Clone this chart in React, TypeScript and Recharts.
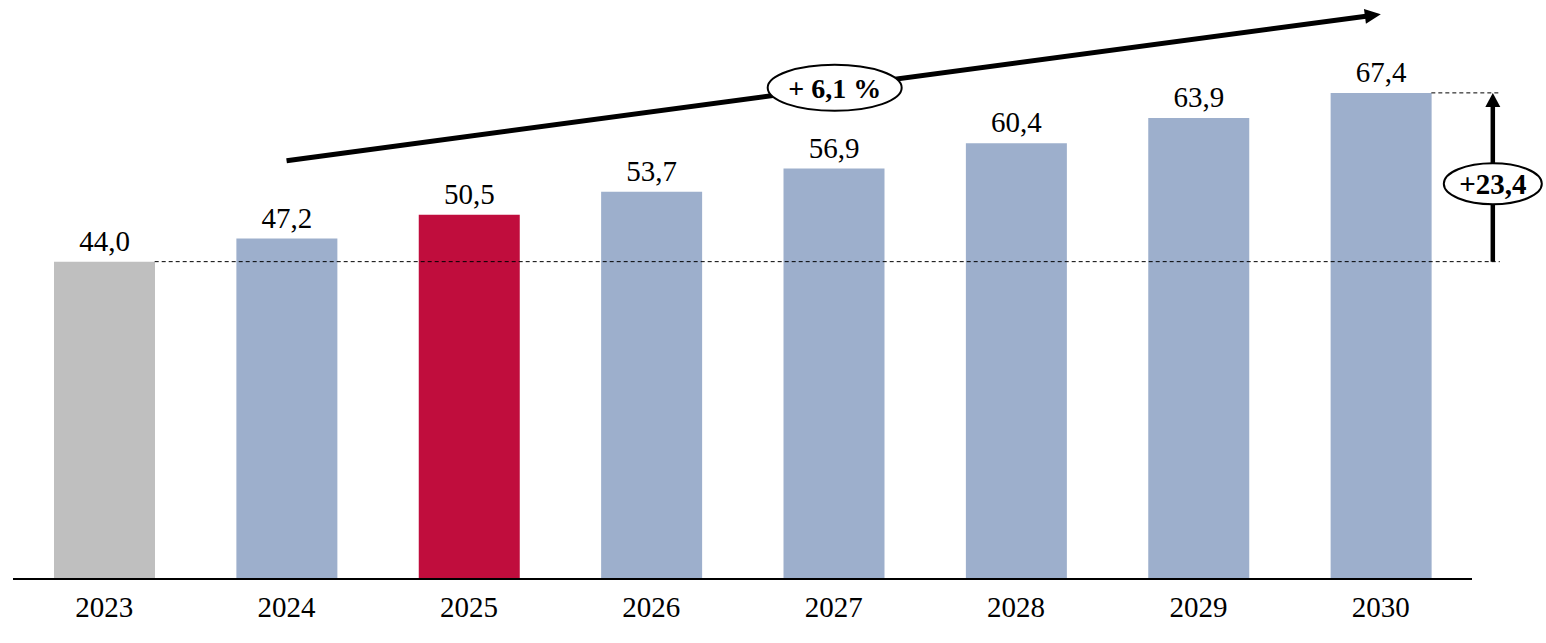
import React from 'react';
import { BarChart, Bar, XAxis, YAxis, Cell, LabelList, ReferenceLine, ReferenceDot } from 'recharts';

const years = ['2023', '2024', '2025', '2026', '2027', '2028', '2029', '2030'];
const values = [44.0, 47.2, 50.5, 53.7, 56.9, 60.4, 63.9, 67.4];
const barColors = ['#bfbfbf', '#9dafcc', '#c00d3d', '#9dafcc', '#9dafcc', '#9dafcc', '#9dafcc', '#9dafcc'];
const trendStart = 58.0;
const trendEnd = 78.3;
const trendLabel = '+ 6,1 %';
const trendLabelYear = '2027';
const trendLabelValue = 68.1;
const diffLabel = '+23,4';
const diffLabelValue = 54.8;

const data = years.map((y, i) => ({ year: y, value: values[i] }));
const FONT = '"Liberation Serif", "Times New Roman", serif';
const fmt = (v: any) => Number(v).toFixed(1).replace('.', ',');

const BAR_HALF = 50.5;
const SIDE_X = 112;

const DashedBase = (p: any) => (
  <line x1={p.x1 + BAR_HALF} y1={p.y1} x2={p.x2 + 119} y2={p.y2} stroke="#000" strokeWidth={1} strokeDasharray="4 3" />
);
const DashedTop = (p: any) => (
  <line x1={p.x1 + BAR_HALF} y1={p.y1} x2={p.x2 + 119} y2={p.y2} stroke="#000" strokeWidth={1} strokeDasharray="4 3" />
);
const TrendArrow = (p: any) => {
  const { x1, y1, x2, y2 } = p;
  const dx = x2 - x1, dy = y2 - y1;
  const len = Math.sqrt(dx * dx + dy * dy);
  const ux = dx / len, uy = dy / len;
  const headL = 16, headW = 7.5;
  const bx = x2 - ux * headL, by = y2 - uy * headL;
  const px = -uy, py = ux;
  return (
    <g>
      <line x1={x1} y1={y1} x2={bx + ux} y2={by + uy} stroke="#000" strokeWidth={5} />
      <polygon points={`${x2},${y2} ${bx + px * headW},${by + py * headW} ${bx - px * headW},${by - py * headW}`} fill="#000" />
    </g>
  );
};
const VertArrow = (p: any) => {
  const x = p.x1 + SIDE_X;
  const yb = Math.max(p.y1, p.y2);
  const yt = Math.min(p.y1, p.y2);
  return (
    <g>
      <line x1={x} y1={yb} x2={x} y2={yt + 13} stroke="#000" strokeWidth={4.5} />
      <polygon points={`${x},${yt} ${x - 7.5},${yt + 14} ${x + 7.5},${yt + 14}`} fill="#000" />
    </g>
  );
};
const TrendEllipse = (p: any) => (
  <g>
    <ellipse cx={p.cx + 1} cy={p.cy} rx={67} ry={23} fill="#fff" stroke="#000" strokeWidth={2} />
    <text x={p.cx + 1} y={p.cy} dy="0.35em" textAnchor="middle" fontFamily={FONT} fontWeight="bold" fontSize={28} fill="#000">{trendLabel}</text>
  </g>
);
const DiffEllipse = (p: any) => (
  <g>
    <ellipse cx={p.cx + SIDE_X} cy={p.cy} rx={49} ry={20.5} fill="#fff" stroke="#000" strokeWidth={2} />
    <text x={p.cx + SIDE_X} y={p.cy} dy="0.35em" textAnchor="middle" fontFamily={FONT} fontWeight="bold" fontSize={29} fill="#000">{diffLabel}</text>
  </g>
);

export default function App() {
  return (
    <div style={{ position: 'absolute', left: 0, top: 0, background: '#fff' }}>
      <BarChart width={1546} height={643} data={data} margin={{ top: 2, right: 74, bottom: 20, left: 13 }}>
        <XAxis
          dataKey="year"
          height={44}
          axisLine={{ stroke: '#000', strokeWidth: 2 }}
          tickLine={false}
          tickSize={0}
          tickMargin={17}
          tick={{ fill: '#000', fontSize: 29, fontFamily: FONT }}
          interval={0}
        />
        <YAxis hide domain={[0, 80]} />
        <Bar dataKey="value" barSize={101} isAnimationActive={false}>
          {data.map((d, i) => (
            <Cell key={d.year} fill={barColors[i]} />
          ))}
          <LabelList dataKey="value" position="top" offset={11} formatter={fmt} style={{ fill: '#000', fontSize: 29, fontFamily: FONT }} />
        </Bar>
        <ReferenceLine segment={[{ x: years[0], y: values[0] }, { x: years[7], y: values[0] }]} ifOverflow="visible" shape={DashedBase} />
        <ReferenceLine segment={[{ x: years[7], y: values[7] }, { x: years[7], y: values[7] }]} ifOverflow="visible" shape={DashedTop} />
        <ReferenceLine segment={[{ x: years[7], y: values[0] }, { x: years[7], y: values[7] }]} ifOverflow="visible" shape={VertArrow} />
        <ReferenceLine segment={[{ x: years[1], y: trendStart }, { x: years[7], y: trendEnd }]} ifOverflow="visible" shape={TrendArrow} />
        <ReferenceDot x={trendLabelYear} y={trendLabelValue} ifOverflow="visible" shape={TrendEllipse} />
        <ReferenceDot x={years[7]} y={diffLabelValue} ifOverflow="visible" shape={DiffEllipse} />
      </BarChart>
    </div>
  );
}
